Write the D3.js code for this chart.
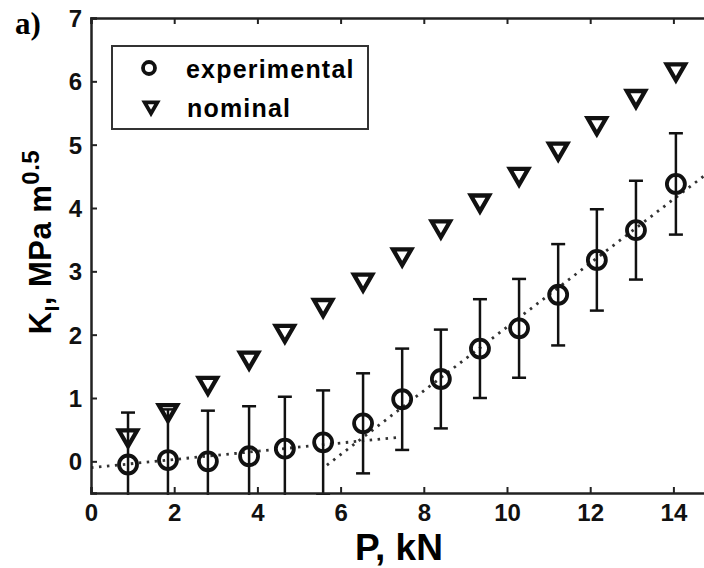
<!DOCTYPE html>
<html>
<head>
<meta charset="utf-8">
<script src="https://cdn.jsdelivr.net/npm/d3@7"></script>
<style>
  body { margin: 0; background: #fff; }
  svg { display: block; font-family: "Liberation Sans", Arial, sans-serif; }
</style>
</head>
<body>
<div id="chart"></div>
<script>
const loads = [0.89, 1.85, 2.81, 3.8, 4.66, 5.58, 6.54, 7.48, 8.41, 9.35, 10.29, 11.23, 12.16, 13.1, 14.06];
const experimental = [-0.05, 0.02, 0.0, 0.08, 0.2, 0.3, 0.6, 0.98, 1.3, 1.78, 2.1, 2.63, 3.18, 3.65, 4.38];
const errors = [0.82, 0.8, 0.8, 0.79, 0.82, 0.82, 0.79, 0.8, 0.78, 0.78, 0.78, 0.8, 0.8, 0.78, 0.8];
const nominal = [0.42, 0.82, 1.25, 1.65, 2.07, 2.48, 2.88, 3.28, 3.72, 4.13, 4.55, 4.95, 5.35, 5.78, 6.2];
const fitLow = [[0, -0.1], [7.4, 0.38]];
const fitHigh = [[5.67, -0.06], [15, 4.64]];
const xTicks = [0, 2, 4, 6, 8, 10, 12, 14];
const yTicks = [0, 1, 2, 3, 4, 5, 6, 7];

const width = 704, height = 568;
const svg = d3.select("#chart").append("svg")
  .attr("width", width).attr("height", height);

const x = d3.scaleLinear().domain([0, 15]).range([91, 715]);
const y = d3.scaleLinear().domain([-0.5, 7]).range([493, 18]);

svg.append("defs").append("clipPath").attr("id", "plot")
  .append("rect")
  .attr("x", x(0)).attr("y", y(7))
  .attr("width", x(15) - x(0)).attr("height", y(-0.5) - y(7) + 2);

const plot = svg.append("g").attr("clip-path", "url(#plot)");

// dotted fits
const line = d3.line().x(d => x(d[0])).y(d => y(d[1]));
[fitLow, fitHigh].forEach(f => {
  plot.append("path").attr("d", line(f))
    .attr("fill", "none").attr("stroke", "#333")
    .attr("stroke-width", 2.8).attr("stroke-dasharray", "2.5,5.5");
});

// nominal triangles (under the error bars)
const tri = d3.symbol().type(d3.symbolTriangle).size(145);
plot.selectAll("path.nom").data(nominal).join("path")
  .attr("class", "nom")
  .attr("d", tri)
  .attr("transform", (d, i) => `translate(${x(loads[i])},${y(d) + 1}) rotate(180)`)
  .attr("fill", "#fff").attr("stroke", "#111").attr("stroke-width", 4.3)
  .attr("stroke-linejoin", "miter");

// error bars
const capW = 7;
const bars = plot.append("g").attr("stroke", "#111").attr("stroke-width", 2.5);
loads.forEach((p, i) => {
  const lo = experimental[i] - errors[i], hi = experimental[i] + errors[i];
  bars.append("line").attr("x1", x(p)).attr("x2", x(p)).attr("y1", y(lo)).attr("y2", y(hi));
  bars.append("line").attr("x1", x(p) - capW).attr("x2", x(p) + capW).attr("y1", y(hi)).attr("y2", y(hi));
  bars.append("line").attr("x1", x(p) - capW).attr("x2", x(p) + capW).attr("y1", y(lo)).attr("y2", y(lo));
});

plot.selectAll("circle.exp").data(experimental).join("circle")
  .attr("class", "exp")
  .attr("cx", (d, i) => x(loads[i])).attr("cy", d => y(d))
  .attr("r", 9)
  .attr("fill", "none").attr("stroke", "#111").attr("stroke-width", 3.8);

// axes
const axisStroke = "#222";
const xAxis = svg.append("g").attr("transform", `translate(0,${y(-0.5)})`)
  .call(d3.axisBottom(x).tickValues(xTicks).tickSize(-6).tickPadding(11).tickFormat(d3.format("d")));
const xTop = svg.append("g").attr("transform", `translate(0,${y(7)})`)
  .call(d3.axisTop(x).tickValues(xTicks).tickSize(-6).tickFormat(""));
const yAxis = svg.append("g").attr("transform", `translate(${x(0)},0)`)
  .call(d3.axisLeft(y).tickValues(yTicks).tickSize(-6).tickPadding(9).tickFormat(d3.format("d")));

[xAxis, xTop, yAxis].forEach(g => {
  g.select(".domain").attr("stroke", axisStroke).attr("stroke-width", 2.5);
  g.selectAll(".tick line").attr("stroke", axisStroke).attr("stroke-width", 2);
  g.selectAll(".tick text").attr("fill", "#111")
    .style("font-size", "24px").style("font-weight", "bold")
    .style("font-family", "'Liberation Sans', Arial, sans-serif");
});
yAxis.selectAll(".tick text").attr("dy", "0.36em");

// axis titles
svg.append("text")
  .attr("x", 399).attr("y", 560)
  .attr("text-anchor", "middle")
  .style("font-size", "37px").style("font-weight", "bold")
  .text("P, kN");

const yl = svg.append("text")
  .attr("transform", "translate(51,242) rotate(-90)")
  .attr("text-anchor", "middle")
  .style("font-size", "31px").style("font-weight", "bold")
  .style("letter-spacing", "0.5px");
yl.append("tspan").text("K");
yl.append("tspan").attr("dy", 8).style("font-size", "20px").text("I");
yl.append("tspan").attr("dy", -8).text(", MPa m");
yl.append("tspan").attr("dy", -12).style("font-size", "24px").text("0.5");

// panel label
svg.append("text")
  .attr("x", 15).attr("y", 34)
  .style("font-family", "'Liberation Serif', 'Times New Roman', serif")
  .style("font-size", "31px").style("font-weight", "bold")
  .text("a)");

// legend
const legend = svg.append("g");
legend.append("rect")
  .attr("x", 112).attr("y", 46).attr("width", 256).attr("height", 83)
  .attr("fill", "#fff").attr("stroke", "#333").attr("stroke-width", 2);
legend.append("circle").attr("cx", 149).attr("cy", 68).attr("r", 6)
  .attr("fill", "none").attr("stroke", "#111").attr("stroke-width", 3.8);
legend.append("path").attr("d", d3.symbol().type(d3.symbolTriangle).size(70))
  .attr("transform", "translate(151,106) rotate(180)")
  .attr("fill", "#fff").attr("stroke", "#111").attr("stroke-width", 3.8);
legend.append("text").attr("x", 186).attr("y", 78)
  .style("font-size", "25px").style("font-weight", "bold")
  .style("letter-spacing", "1.2px").text("experimental");
legend.append("text").attr("x", 187).attr("y", 117)
  .style("font-size", "25px").style("font-weight", "bold")
  .style("letter-spacing", "1.2px").text("nominal");
</script>
</body>
</html>
